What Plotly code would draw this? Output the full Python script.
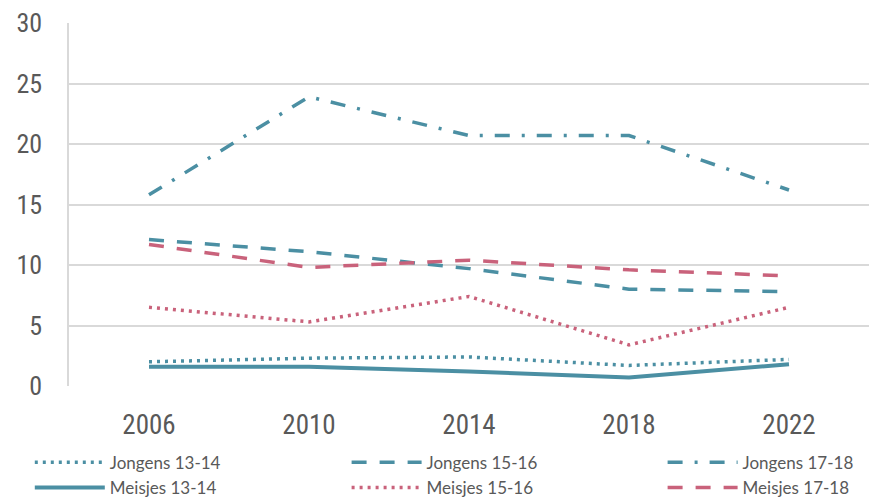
import plotly.graph_objects as go

years = ["2006", "2010", "2014", "2018", "2022"]
jongens_13_14 = [2.0, 2.3, 2.4, 1.7, 2.2]
jongens_15_16 = [12.1, 11.1, 9.7, 8.0, 7.8]
jongens_17_18 = [15.8, 23.9, 20.7, 20.7, 16.2]
meisjes_13_14 = [1.6, 1.6, 1.2, 0.7, 1.8]
meisjes_15_16 = [6.5, 5.3, 7.4, 3.4, 6.5]
meisjes_17_18 = [11.7, 9.8, 10.4, 9.6, 9.1]

TEAL = "#4B8FA3"
PINK = "#C9627B"
FONT = "Liberation Sans Narrow, Roboto Condensed, Liberation Sans, sans-serif"
LEGFONT = "Lato, Open Sans, sans-serif"
GRAY = "#595959"

series = [
    ("Jongens 13-14", jongens_13_14, TEAL, "3px,5px", 3.5, "legend"),
    ("Meisjes 13-14", meisjes_13_14, TEAL, "solid", 4, "legend"),
    ("Jongens 15-16", jongens_15_16, TEAL, "15px,13px", 3.5, "legend2"),
    ("Meisjes 15-16", meisjes_15_16, PINK, "3px,5px", 3.5, "legend2"),
    ("Jongens 17-18", jongens_17_18, TEAL, "15px,12px,3px,12px", 3.5, "legend3"),
    ("Meisjes 17-18", meisjes_17_18, PINK, "15px,13px", 3.5, "legend3"),
]

fig = go.Figure()
for name, vals, color, dash, w, leg in series:
    fig.add_trace(go.Scatter(
        x=years, y=vals, name=name, mode="lines", legend=leg, legendgroup=name,
        line=dict(color=color, width=w, dash=dash),
    ))

legend_common = dict(
    orientation="v", yanchor="top", xanchor="left", y=-0.162,
    font=dict(size=17, color=GRAY, family=LEGFONT),
    tracegroupgap=0, itemwidth=70, bgcolor="rgba(0,0,0,0)",
)

fig.update_layout(
    width=872, height=499,
    margin=dict(l=69, r=3, t=23, b=113, autoexpand=False),
    paper_bgcolor="white", plot_bgcolor="white",
    font=dict(family=FONT, color=GRAY),
    showlegend=True,
    legend=dict(x=-0.049, **legend_common),
    legend2=dict(x=0.347, **legend_common),
    legend3=dict(x=0.742, **legend_common),
)
fig.update_xaxes(
    type="category", range=[-0.5, 4.5], automargin=False,
    showgrid=False, zeroline=False, showline=False, ticks="",
    tickfont=dict(size=27, color=GRAY), ticklabelstandoff=20,
)
fig.update_yaxes(
    range=[0, 30], dtick=5, showgrid=True, gridcolor="#D9D9D9", gridwidth=1.5,
    zeroline=False, showline=True, linecolor="#D9D9D9", linewidth=1.5, automargin=False,
    ticks="", tickfont=dict(size=26, color=GRAY), ticklabelstandoff=20,
)

fig.write_html("out.html", config={"displayModeBar": False},
               post_script="document.body.style.margin='0';")
